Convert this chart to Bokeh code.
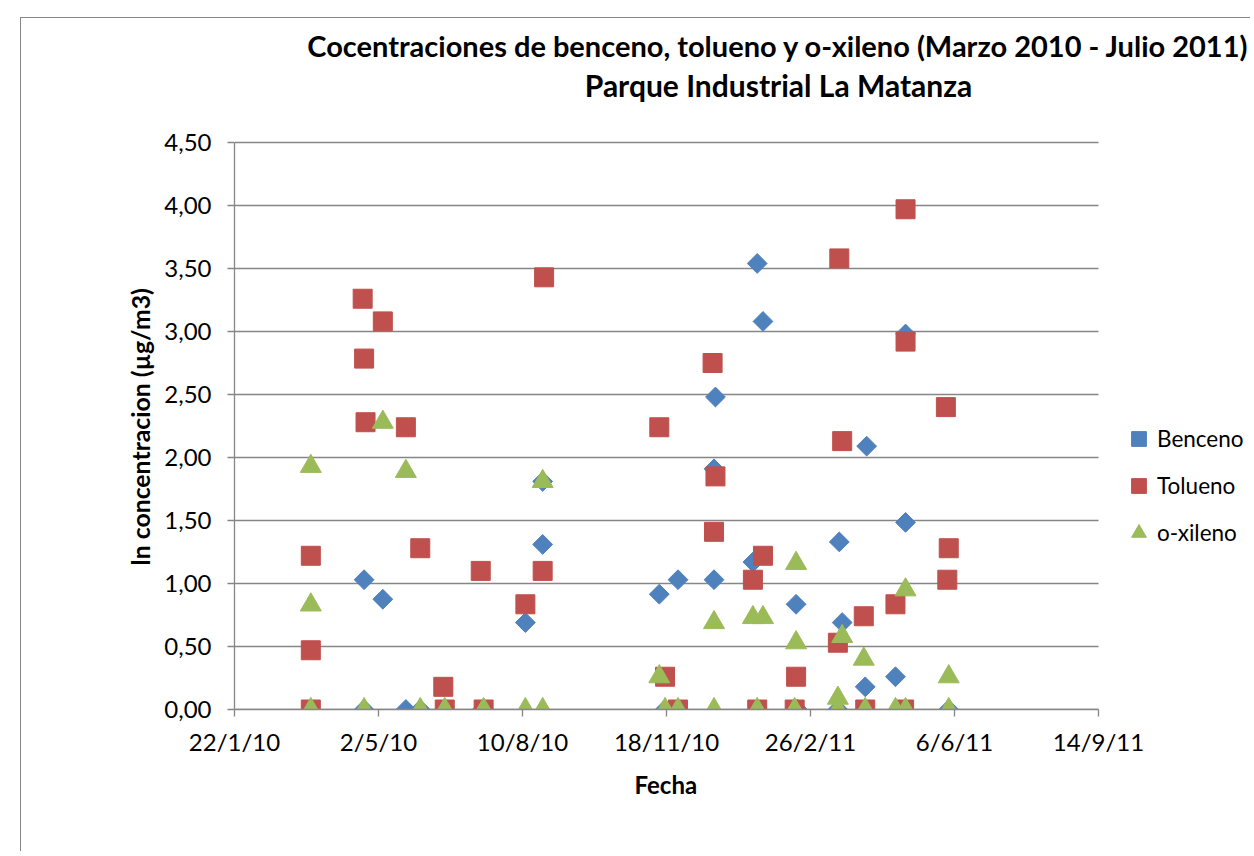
import math
import pandas as pd
from bokeh.plotting import figure
from bokeh.models import (FixedTicker, CustomJSTickFormatter, Legend, LegendItem,
                          Label, Range1d, Title)
from bokeh.embed import file_html
from bokeh.resources import INLINE

# ---------------- data ----------------
TITLE_LINE_1 = "Cocentraciones de benceno, tolueno y o-xileno (Marzo 2010 - Julio 2011)"
TITLE_LINE_2 = "Parque Industrial La Matanza"
X_LABEL = "Fecha"
Y_LABEL = "ln concentracion (µg/m3)"
SERIES_NAMES = ["Benceno", "Tolueno", "o-xileno"]
X_TICK_LABELS = ["22/1/10", "2/5/10", "10/8/10", "18/11/10", "26/2/11", "6/6/11", "14/9/11"]
Y_TICKS = [0.0, 0.5, 1.0, 1.5, 2.0, 2.5, 3.0, 3.5, 4.0, 4.5]

benceno_dates = ["2010-03-16", "2010-04-22", "2010-04-22", "2010-05-05", "2010-05-21",
                 "2010-05-31", "2010-06-17", "2010-07-13", "2010-08-12", "2010-08-24",
                 "2010-08-24", "2010-11-13", "2010-11-17", "2010-11-26", "2010-12-22",
                 "2010-12-21", "2010-12-21", "2011-01-20", "2011-01-17", "2011-01-24",
                 "2011-02-16", "2011-02-17", "2011-03-18", "2011-03-20", "2011-03-17",
                 "2011-04-06", "2011-04-05", "2011-04-26", "2011-05-03", "2011-05-03",
                 "2011-06-02"]
benceno_vals = [0.0, 1.03, 0.0, 0.875, 0.0,
                0.0, 0.0, 0.0, 0.69, 1.81,
                1.31, 0.915, 0.0, 1.03, 2.48,
                1.91, 1.03, 3.54, 1.17, 3.08,
                0.835, 0.0, 1.33, 0.69, 0.0,
                2.09, 0.18, 0.26, 2.98, 1.485,
                0.0]

tolueno_dates = ["2010-03-16", "2010-03-16", "2010-03-16", "2010-04-21", "2010-04-22",
                 "2010-04-23", "2010-05-05", "2010-05-21", "2010-05-31", "2010-06-16",
                 "2010-06-17", "2010-07-12", "2010-07-14", "2010-08-12", "2010-08-25",
                 "2010-08-24", "2010-11-13", "2010-11-17", "2010-11-26", "2010-12-20",
                 "2010-12-22", "2010-12-21", "2011-01-17", "2011-01-20", "2011-01-24",
                 "2011-02-16", "2011-02-15", "2011-03-18", "2011-03-20", "2011-03-17",
                 "2011-04-04", "2011-04-05", "2011-04-26", "2011-05-03", "2011-05-03",
                 "2011-05-02", "2011-05-31", "2011-06-02", "2011-06-01"]
tolueno_vals = [1.22, 0.47, 0.0, 3.26, 2.785,
                2.28, 3.08, 2.24, 1.28, 0.18,
                0.0, 1.10, 0.0, 0.835, 3.43,
                1.10, 2.24, 0.26, 0.0, 2.75,
                1.85, 1.41, 1.03, 0.0, 1.22,
                0.26, 0.0, 3.58, 2.13, 0.53,
                0.74, 0.0, 0.835, 3.97, 2.92,
                0.0, 2.40, 1.28, 1.03]

oxileno_dates = ["2010-03-16", "2010-03-16", "2010-03-16", "2010-04-22", "2010-05-05",
                 "2010-05-21", "2010-05-31", "2010-06-17", "2010-07-14", "2010-08-12",
                 "2010-08-24", "2010-08-24", "2010-11-13", "2010-11-17", "2010-11-26",
                 "2010-12-21", "2010-12-21", "2011-01-17", "2011-01-20", "2011-01-24",
                 "2011-02-16", "2011-02-16", "2011-02-15", "2011-03-20", "2011-03-17",
                 "2011-03-17", "2011-04-04", "2011-04-05", "2011-04-26", "2011-05-03",
                 "2011-05-03", "2011-06-02", "2011-06-02"]
oxileno_vals = [1.93, 0.83, 0.0, 0.0, 2.28,
                1.89, 0.0, 0.0, 0.0, 0.0,
                1.81, 0.0, 0.26, 0.0, 0.0,
                0.69, 0.0, 0.73, 0.0, 0.73,
                1.16, 0.53, 0.0, 0.58, 0.09,
                0.0, 0.40, 0.0, 0.0, 0.95,
                0.0, 0.26, 0.0]

# ---------------- layout ----------------
FONT = "Lato"
GRAY = "#868686"
W, H = 1230, 834           # figure size (placed at page x=21, y=18)
LEFT, BOTTOM = 213, 143    # space for the axes
AXIS_W, AXIS_H = 864, 567  # pixel extent of the real axes inside the frame
FRAME_W, FRAME_H = W - LEFT, H - BOTTOM

x_ticks_dt = pd.to_datetime(X_TICK_LABELS, format="%d/%m/%y")
x_ticks_ms = [float(t.value // 10**6) for t in x_ticks_dt]
x0, x1 = x_ticks_ms[0], x_ticks_ms[-1]
y0, y1 = Y_TICKS[0], Y_TICKS[-1]

p = figure(width=W, height=H, x_axis_type="datetime",
           output_backend="svg", toolbar_location=None, title=None,
           min_border_left=LEFT, min_border_right=0,
           min_border_top=0, min_border_bottom=BOTTOM,
           background_fill_color="white", border_fill_color="white",
           outline_line_color=None)
p.styles = {"margin-left": "20px", "margin-top": "17px",
            "border-left": "1px solid #868686", "border-top": "1px solid #868686"}

# the frame also holds the title and legend area; axes are bounded to the data area
p.x_range = Range1d(x0, x0 + (x1 - x0) * FRAME_W / AXIS_W)
p.y_range = Range1d(y0, y0 + (y1 - y0) * FRAME_H / AXIS_H)

# axes
p.xaxis.ticker = FixedTicker(ticks=x_ticks_ms)
p.xaxis.bounds = (x0, x1)
p.xaxis.formatter = CustomJSTickFormatter(
    args=dict(tick_vals=x_ticks_ms, tick_texts=X_TICK_LABELS),
    code="""
    let best = 0, bd = Infinity;
    for (let i = 0; i < tick_vals.length; i++) {
        const d = Math.abs(tick_vals[i] - tick);
        if (d < bd) { bd = d; best = i; }
    }
    return tick_texts[best];
    """)
p.yaxis.ticker = FixedTicker(ticks=Y_TICKS)
p.yaxis.bounds = (y0, y1)
p.yaxis.formatter = CustomJSTickFormatter(code="return tick.toFixed(2).replace('.', ',');")

for ax in (p.xaxis, p.yaxis):
    ax.axis_line_color = GRAY
    ax.axis_line_width = 1.3
    ax.major_tick_line_color = GRAY
    ax.major_tick_line_width = 1.3
    ax.major_tick_out = 7
    ax.major_tick_in = 0
    ax.minor_tick_line_color = None
    ax.major_label_text_font = FONT
    ax.major_label_text_font_size = "24px"
    ax.major_label_text_color = "black"

p.xaxis.major_label_standoff = 10
p.yaxis.major_label_standoff = 16
p.xaxis.major_label_orientation = "horizontal"

# axis titles placed along the real axis span (the frame is wider/taller than it)
p.add_layout(Title(text=X_LABEL, align="left", offset=400, standoff=19,
                   text_font=FONT, text_font_style="bold", text_font_size="24px",
                   text_color="black"), "below")
p.add_layout(Title(text=Y_LABEL, align="left", offset=144, standoff=13,
                   text_font=FONT, text_font_style="bold", text_font_size="24.8px",
                   text_color="black"), "left")

p.xgrid.visible = False
p.ygrid.visible = False
# horizontal gridlines limited to the axis span
p.segment(x0=[x0] * len(Y_TICKS), x1=[x1] * len(Y_TICKS), y0=Y_TICKS, y1=Y_TICKS,
          line_color=GRAY, line_width=1.3, level="underlay")

# series
rb = p.scatter(x=pd.to_datetime(benceno_dates), y=benceno_vals, marker="square",
               angle=math.pi / 4, size=14, fill_color="#4F81BD", line_color="#4F81BD")
rt = p.scatter(x=pd.to_datetime(tolueno_dates), y=tolueno_vals, marker="square",
               size=19, fill_color="#C0504D", line_color="#C0504D")
rx = p.scatter(x=pd.to_datetime(oxileno_dates), y=oxileno_vals, marker="triangle",
               size=21, fill_color="#9BBB59", line_color="#9BBB59")

legend = Legend(items=[LegendItem(label=SERIES_NAMES[0], renderers=[rb]),
                       LegendItem(label=SERIES_NAMES[1], renderers=[rt]),
                       LegendItem(label=SERIES_NAMES[2], renderers=[rx])],
                location=(886, 158), orientation="vertical",
                glyph_width=37, glyph_height=37, label_standoff=0,
                spacing=10, padding=0, margin=0,
                border_line_color=None, background_fill_alpha=0,
                label_text_font=FONT, label_text_font_size="22.5px",
                label_text_color="black")
p.add_layout(legend)

# title: two centered lines over the chart area
for txt, yy, fs in ((TITLE_LINE_1, 664, "29px"), (TITLE_LINE_2, 625, "30px")):
    p.add_layout(Label(x=544, y=yy, x_units="screen", y_units="screen", text=txt,
                       text_align="center", text_baseline="middle",
                       text_font=FONT, text_font_style="bold",
                       text_font_size=fs, text_color="black"))

open("out.html", "w").write(file_html(p, INLINE))
